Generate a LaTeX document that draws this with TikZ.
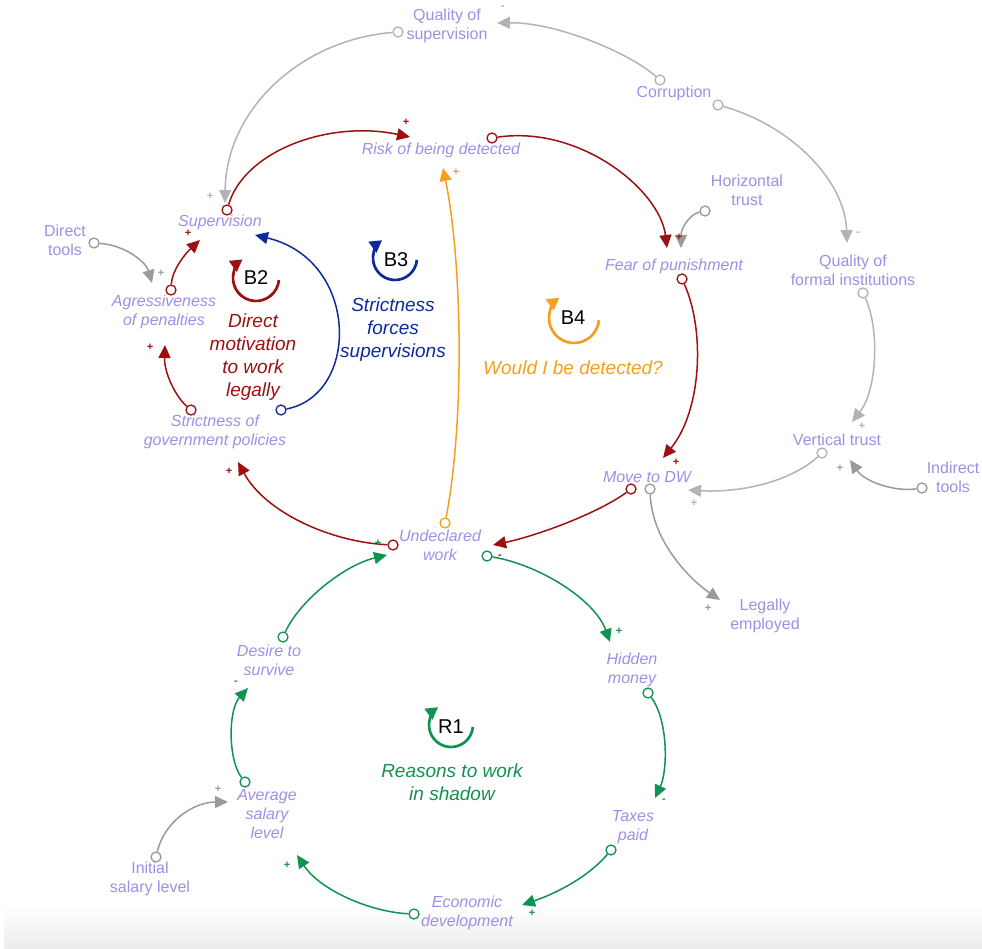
\documentclass[tikz,border=0pt]{standalone}
\usepackage{fontspec}
\setmainfont{Liberation Sans}
\usetikzlibrary{arrows.meta}
\definecolor{lav}{HTML}{A08EE6}
\definecolor{dred}{HTML}{9E0F0F}
\definecolor{nblue}{HTML}{0D2A9A}
\definecolor{orng}{HTML}{F4A01C}
\definecolor{grn}{HTML}{119152}
\definecolor{lgray}{HTML}{B3B3B3}
\definecolor{mgray}{HTML}{9A9A9A}
\definecolor{stripgray}{HTML}{ECECEC}
\begin{document}
\begin{tikzpicture}[x=1pt,y=-1pt,
 var/.style={text=lav,font=\fontsize{16}{19}\selectfont\itshape,align=center,inner sep=0pt},
 ext/.style={text=lav,font=\fontsize{16}{19}\selectfont,align=center,inner sep=0pt},
 src/.style={circle,draw=#1,fill=white,line width=1.3pt,minimum size=10pt,inner sep=0pt},
 lnk/.style={draw=#1,line width=1.5pt,-{Triangle[length=13pt,width=12pt]}},
 sgn/.style={text=#1,font=\fontsize{11}{11}\selectfont\bfseries,inner sep=0pt},
 lbl/.style={text=#1,font=\fontsize{19}{23}\selectfont\itshape,align=center,inner sep=0pt},
 lsym/.style={draw=#1,line width=2.7pt,-{Triangle[length=12pt,width=13pt]}},
 ltxt/.style={font=\fontsize{20}{20}\selectfont,inner sep=0pt}
]
\useasboundingbox (0,0) rectangle (982,949);
\shade[top color=white,bottom color=stripgray] (4,905) rectangle (982,949);

% variables
\node[ext] (qsup) at (447,26) {Quality of\\supervision};
\node[ext] (corr) at (674,93) {Corruption};
\node[var] (risk) at (441,150) {Risk of being detected};
\node[var] (sup) at (220,222) {Supervision};
\node[ext] (htr) at (747,190) {Horizontal\\trust};
\node[ext] (dtools) at (65,240) {Direct\\tools};
\node[var] (fear) at (674,266) {Fear of punishment};
\node[ext] (qfi) at (853,270) {Quality of\\formal institutions};
\node[var] (aggr) at (164,312) {Agressiveness\\of penalties};
\node[var] (strict) at (215,432) {Strictness of\\government policies};
\node[ext] (vtr) at (837,440) {Vertical trust};
\node[ext] (itools) at (953,477) {Indirect\\tools};
\node[var] (move) at (647,477) {Move to DW};
\node[var] (undw) at (440,545) {Undeclared\\work};
\node[ext] (legal) at (765,616) {Legally\\employed};
\node[var] (hidden) at (632,670) {Hidden\\money};
\node[var] (desire) at (269,660) {Desire to\\survive};
\node[var] (avg) at (267,814) {Average\\salary\\level};
\node[var] (taxes) at (633,827) {Taxes\\paid};
\node[var] (econ) at (467,913) {Economic\\development};
\node[ext] (init) at (150,879) {Initial\\salary level};

% loop labels
\node[lbl=dred] (l2) at (253,357) {Direct\\motivation\\to work\\legally};
\node[lbl=nblue] (l3) at (393,330) {Strictness\\forces\\supervisions};
\node[lbl=orng] (l4) at (573,368) {Would I be detected?};
\node[lbl=grn] (l1) at (452,782) {Reasons to work\\in shadow};

% loop symbols
\coordinate (b2c) at (256,278);
\coordinate (b3c) at (395,258);
\coordinate (b4c) at (574,318);
\coordinate (r1c) at (451,725);
\draw[lsym=dred] ([shift={(5:23)}]b2c) arc[start angle=5,end angle=234,radius=23];
\draw[lsym=nblue] ([shift={(5:22)}]b3c) arc[start angle=5,end angle=234,radius=22];
\draw[lsym=orng] ([shift={(5:25)}]b4c) arc[start angle=5,end angle=234,radius=25];
\draw[lsym=grn] ([shift={(5:22)}]r1c) arc[start angle=5,end angle=234,radius=22];
\node[ltxt] (b2) at (256,278) {B2};
\node[ltxt] (b3) at (396,260) {B3};
\node[ltxt] (b4) at (573,318) {B4};
\node[ltxt] (r1) at (451,727) {R1};

% source circles
\node[src=lgray] (c1) at (660,80) {};
\node[src=lgray] (c2) at (398,32) {};
\node[src=dred] (c3) at (227,210) {};
\node[src=dred] (c4) at (492,138) {};
\node[src=mgray] (c5) at (705,211) {};
\node[src=lgray] (c6) at (718,105) {};
\node[src=lgray] (c7) at (863,293) {};
\node[src=lgray] (c8) at (822,453) {};
\node[src=mgray] (c9) at (922,488) {};
\node[src=dred] (c10) at (682,279) {};
\node[src=dred] (c11) at (631,489) {};
\node[src=mgray] (c12) at (650,489) {};
\node[src=dred] (c13) at (393,545) {};
\node[src=dred] (c14) at (191,410) {};
\node[src=dred] (c15) at (171,290) {};
\node[src=mgray] (c16) at (94,243) {};
\node[src=nblue] (c17) at (281,410) {};
\node[src=orng] (c18) at (445,523) {};
\node[src=grn] (c19) at (487,556) {};
\node[src=grn] (c20) at (648,693) {};
\node[src=grn] (c21) at (611,850) {};
\node[src=grn] (c22) at (414,914) {};
\node[src=grn] (c23) at (245,782) {};
\node[src=grn] (c24) at (283,637) {};
\node[src=mgray] (c25) at (156,857) {};

% arrow tips
\coordinate (t1) at (497,23);
\coordinate (t2) at (225,203);
\coordinate (t3) at (410,137);
\coordinate (t4) at (667,248);
\coordinate (t5) at (681,248);
\coordinate (t6) at (847,243);
\coordinate (t7) at (852,422);
\coordinate (t8) at (688,490);
\coordinate (t9) at (850,460);
\coordinate (t10) at (663,458);
\coordinate (t11) at (493,545);
\coordinate (t12) at (720,600);
\coordinate (t13) at (238,462);
\coordinate (t14) at (165,345);
\coordinate (t15) at (200,240);
\coordinate (t16) at (152,283);
\coordinate (t17) at (255,235);
\coordinate (t18) at (443,168);
\coordinate (t19) at (610,642);
\coordinate (t20) at (655,798);
\coordinate (t21) at (522,905);
\coordinate (t22) at (297,855);
\coordinate (t23) at (248,688);
\coordinate (t24) at (387,555);
\coordinate (t25) at (228,802);

% links
\draw[lnk=lgray] (c1) .. controls (628,52) and (555,22) .. (t1);
\draw[lnk=lgray] (c2) .. controls (300,40) and (226,110) .. (t2);
\draw[lnk=dred] (c3) .. controls (245,150) and (330,120) .. (t3);
\draw[lnk=dred] (c4) .. controls (580,125) and (660,190) .. (t4);
\draw[lnk=mgray] (c5) .. controls (690,214) and (681,228) .. (t5);
\draw[lnk=lgray] (c6) .. controls (790,125) and (845,180) .. (t6);
\draw[lnk=lgray] (c7) .. controls (880,330) and (877,390) .. (t7);
\draw[lnk=lgray] (c8) .. controls (790,482) and (740,493) .. (t8);
\draw[lnk=mgray] (c9) .. controls (895,492) and (865,482) .. (t9);
\draw[lnk=dred] (c10) .. controls (705,330) and (702,410) .. (t10);
\draw[lnk=dred] (c11) .. controls (600,512) and (540,535) .. (t11);
\draw[lnk=mgray] (c12) .. controls (652,540) and (688,578) .. (t12);
\draw[lnk=dred] (c13) .. controls (330,542) and (265,512) .. (t13);
\draw[lnk=dred] (c14) .. controls (175,396) and (164,372) .. (t14);
\draw[lnk=dred] (c15) .. controls (172,270) and (185,254) .. (t15);
\draw[lnk=mgray] (c16) .. controls (125,245) and (146,262) .. (t16);
\draw[lnk=nblue] (c17) .. controls (360,395) and (360,260) .. (t17);
\draw[lnk=orng] (c18) .. controls (465,420) and (462,260) .. (t18);
\draw[lnk=grn] (c19) .. controls (540,565) and (595,600) .. (t19);
\draw[lnk=grn] (c20) .. controls (668,720) and (668,770) .. (t20);
\draw[lnk=grn] (c21) .. controls (590,875) and (560,892) .. (t21);
\draw[lnk=grn] (c22) .. controls (370,912) and (320,890) .. (t22);
\draw[lnk=grn] (c23) .. controls (228,760) and (228,710) .. (t23);
\draw[lnk=grn] (c24) .. controls (300,600) and (345,565) .. (t24);
\draw[lnk=mgray] (c25) .. controls (165,820) and (195,802) .. (t25);

% polarity signs
\node[sgn=lgray] (s1) at (503,8) {-};
\node[sgn=lgray] (s2) at (210,196) {+};
\node[sgn=dred] (s3) at (406,122) {+};
\node[sgn=dred] (s4) at (679,237) {+};
\node[sgn=lgray] (s6) at (858,234) {-};
\node[sgn=lgray] (s7) at (862,426) {+};
\node[sgn=lgray] (s8) at (694,503) {+};
\node[sgn=mgray] (s9) at (840,468) {+};
\node[sgn=dred] (s10) at (676,462) {+};
\node[sgn=dred] (s11) at (500,557) {-};
\node[sgn=mgray] (s12) at (708,608) {+};
\node[sgn=dred] (s13) at (229,471) {+};
\node[sgn=dred] (s14) at (150,347) {+};
\node[sgn=dred] (s15) at (188,233) {+};
\node[sgn=mgray] (s16) at (161,273) {+};
\node[sgn=orng] (s18) at (456,172) {+};
\node[sgn=grn] (s19) at (619,631) {+};
\node[sgn=grn] (s20) at (664,801) {-};
\node[sgn=grn] (s21) at (532,913) {+};
\node[sgn=grn] (s22) at (287,865) {+};
\node[sgn=grn] (s23) at (236,683) {-};
\node[sgn=grn] (s24) at (378,543) {+};
\node[sgn=mgray] (s25) at (218,789) {+};
\end{tikzpicture}
\end{document}
